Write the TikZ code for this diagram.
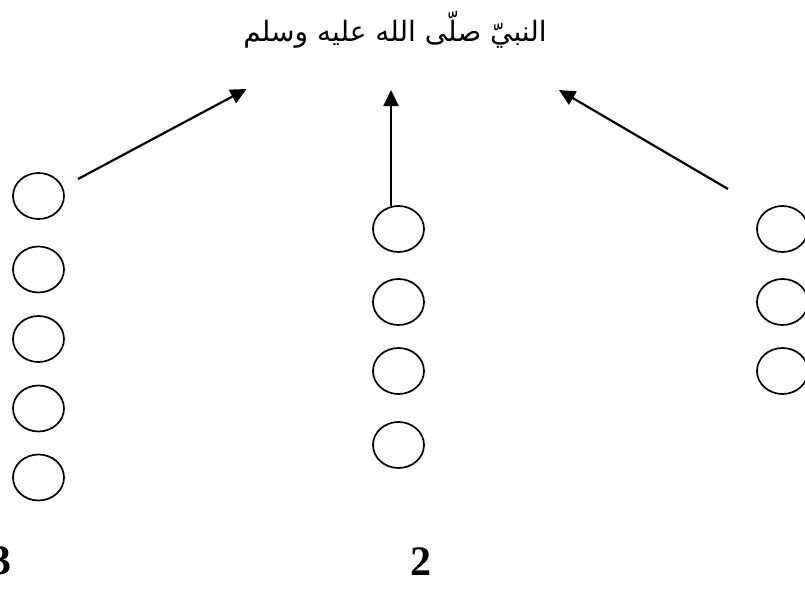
\documentclass[tikz,border=0pt]{standalone}
\usepackage{fontspec}
\setmainfont{Liberation Serif}
\newfontfamily\arabicfont[Script=Arabic]{DejaVu Sans}
\TeXXeTstate=1
\usetikzlibrary{arrows.meta,shapes.geometric}
\begin{document}
\begin{tikzpicture}[x=1pt,y=-1pt,
  bead/.style={draw,ellipse,line width=1.7pt,minimum width=51pt,minimum height=46pt,inner sep=0pt},
  link/.style={line width=2.2pt,-{Triangle[length=16pt,width=15pt]}},
  tag/.style={font=\fontsize{42}{42}\selectfont\bfseries,inner sep=0pt}]
\useasboundingbox (0,0) rectangle (805,589);
% title
\node[inner sep=0pt] (title) at (395,30) {\arabicfont\fontsize{28}{32}\selectfont\beginR النبيّ صلّى الله عليه وسلم\endR};
% left column
\node[bead] (l1) at (38.5,196) {};
\node[bead] (l2) at (38.5,269.5) {};
\node[bead] (l3) at (38.5,339) {};
\node[bead] (l4) at (38.5,408.5) {};
\node[bead] (l5) at (38.5,477.5) {};
% middle column
\node[bead] (m1) at (398.5,229) {};
\node[bead] (m2) at (398.5,302) {};
\node[bead] (m3) at (398.5,371) {};
\node[bead] (m4) at (398.5,445) {};
% right column
\node[bead] (r1) at (782.5,229) {};
\node[bead] (r2) at (782.5,302) {};
\node[bead] (r3) at (782.5,371) {};
% arrow ends
\coordinate (la) at (78,179);
\coordinate (lt) at (246.5,89);
\coordinate (ma) at (391,206);
\coordinate (mt) at (391,90);
\coordinate (ra) at (728,189);
\coordinate (rt) at (559,90);
\draw[link] (la) -- (lt);
\draw[link] (ma) -- (mt);
\draw[link] (ra) -- (rt);
% column numbers
\node[tag,anchor=east] (n3) at (12,561) {3};
\node[tag] (n2) at (421,562) {2};
\end{tikzpicture}
\end{document}
